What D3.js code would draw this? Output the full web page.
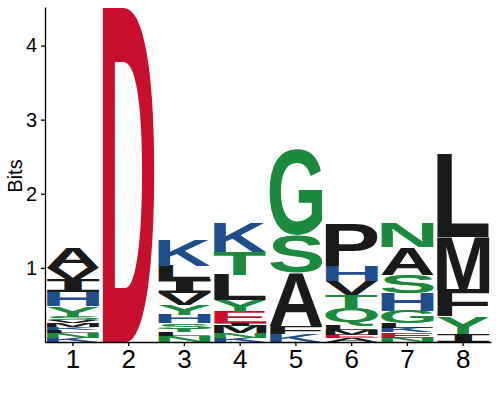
<!DOCTYPE html>
<html>
<head>
<meta charset="utf-8">
<script src="https://cdn.jsdelivr.net/npm/d3@7"></script>
<style>
  body { margin: 0; background: #fff; }
</style>
</head>
<body>
<svg id="logo" width="500" height="400"></svg>
<script>
// positions along the sequence
var positions = [1, 2, 3, 4, 5, 6, 7, 8];

// residues at each position, listed from top of the stack down
var letters = [
  ["A", "V", "I", "H", "Y", "S", "V", "M", "K", "L", "N", "K"],
  ["D"],
  ["K", "L", "I", "V", "Y", "H", "S", "T", "L", "N"],
  ["K", "T", "L", "Y", "E", "I", "M", "N", "K"],
  ["G", "S", "A", "F", "K"],
  ["P", "H", "V", "T", "Q", "L", "M", "E", "A"],
  ["N", "A", "S", "H", "G", "L", "K", "E", "N"],
  ["L", "M", "F", "Y", "I"]
];

// height of each residue in bits, same order as above
var bits = [
  [0.28, 0.16, 0.17, 0.19, 0.14, 0.05, 0.04, 0.05, 0.04, 0.04, 0.06, 0.06],
  [4.52],
  [0.34, 0.18, 0.19, 0.16, 0.13, 0.12, 0.07, 0.05, 0.05, 0.08],
  [0.40, 0.31, 0.34, 0.15, 0.15, 0.04, 0.10, 0.06, 0.06],
  [1.15, 0.50, 0.72, 0.11, 0.11],
  [0.57, 0.20, 0.18, 0.18, 0.24, 0.06, 0.06, 0.05, 0.05],
  [0.33, 0.37, 0.25, 0.24, 0.17, 0.06, 0.06, 0.07, 0.06],
  [1.13, 0.72, 0.36, 0.23, 0.11]
];

var yTicks = [1, 2, 3, 4];

// residue colour groups
var redResidues = ["D", "E"];
var greenResidues = ["G", "S", "T", "Y", "C", "Q", "N"];
var blueResidues = ["K", "R", "H"];

var colorOf = function(ch) {
  if (redResidues.indexOf(ch) >= 0) return "#c8102e";
  if (greenResidues.indexOf(ch) >= 0) return "#1b8a3c";
  if (blueResidues.indexOf(ch) >= 0) return "#1f4e8c";
  return "#1a1a1a";
};

var svg = d3.select("#logo");

var x = d3.scaleBand()
    .domain(positions)
    .range([45, 491]);

var y = d3.scaleLinear()
    .domain([0, 4.52])
    .range([342, 7]);

// canvas gives the ink box of a glyph so it can be stretched into its slot
var ctx = document.createElement("canvas").getContext("2d");
var inkBox = function(ch, family) {
  ctx.font = "bold 100px " + family;
  var m = ctx.measureText(ch);
  return {
    l: -m.actualBoundingBoxLeft,
    r: m.actualBoundingBoxRight,
    t: -m.actualBoundingBoxAscent,
    b: m.actualBoundingBoxDescent
  };
};

var logo = svg.append("g");

positions.forEach(function(pos, i) {
  var col = letters[i];
  var h = bits[i];
  var base = 0;
  // stack from the bottom up
  for (var k = col.length - 1; k >= 0; k--) {
    var ch = col[k];
    var top = base + h[k];
    var family = ch === "I" ? "'DejaVu Sans Mono'" : "'Liberation Sans'";
    var box = inkBox(ch, family);
    var left = x(pos) + 1.5;
    var w = x.bandwidth() - 3;
    var py = y(top);
    var ph = y(base) - y(top);
    var sx = w / (box.r - box.l);
    var sy = ph / (box.b - box.t);

    logo.append("text")
        .attr("transform", "translate(" + left + "," + py + ") scale(" + sx + "," + sy + ") translate(" + (-box.l) + "," + (-box.t) + ")")
        .style("font-family", family)
        .style("font-weight", "bold")
        .style("font-size", "100px")
        .attr("fill", colorOf(ch))
        .text(ch);

    base = top;
  }
});

// axes
var xAxis = svg.append("g")
    .attr("transform", "translate(0,342)")
    .call(d3.axisBottom(x).tickSize(4).tickSizeOuter(0).tickPadding(4));

xAxis.selectAll("text")
    .style("font-family", "'Liberation Sans', Arial, sans-serif")
    .style("font-size", "26px")
    .attr("fill", "#000");

var yAxis = svg.append("g")
    .attr("transform", "translate(45,0)")
    .call(d3.axisLeft(y).tickValues(yTicks).tickFormat(d3.format("d"))
      .tickSize(4).tickSizeOuter(0).tickPadding(4));

yAxis.selectAll("text")
    .style("font-family", "'Liberation Sans', Arial, sans-serif")
    .style("font-size", "20px")
    .attr("fill", "#000");

svg.selectAll(".domain, .tick line")
    .attr("stroke", "#000")
    .attr("stroke-width", 1.3);

svg.append("text")
    .attr("transform", "translate(22,176) rotate(-90)")
    .attr("text-anchor", "middle")
    .style("font-family", "'Liberation Sans', Arial, sans-serif")
    .style("font-size", "20px")
    .text("Bits");
</script>
</body>
</html>
